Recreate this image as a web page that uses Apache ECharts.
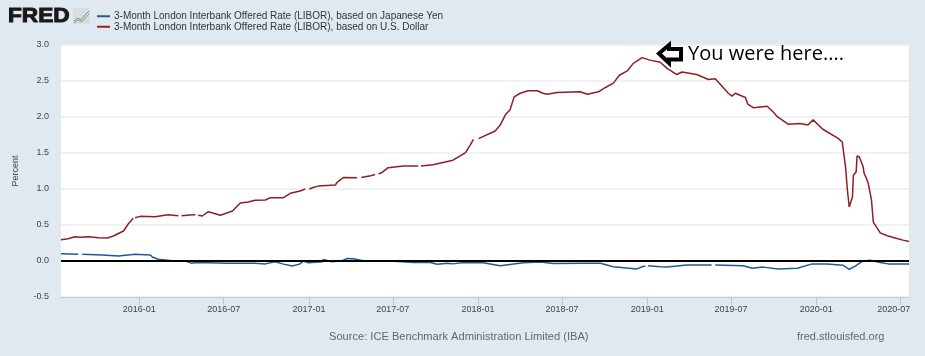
<!DOCTYPE html>
<html>
<head>
<meta charset="utf-8">
<style>
  html, body { margin: 0; padding: 0; background: #e1e9f0; }
  #main { width: 925px; height: 356px; }
</style>
<script src="https://cdn.jsdelivr.net/npm/echarts@6/dist/echarts.min.js"></script>
</head>
<body>
<div id="main"></div>
<script>
var jpyName = '3-Month London Interbank Offered Rate (LIBOR), based on Japanese Yen';
var usdName = '3-Month London Interbank Offered Rate (LIBOR), based on U.S. Dollar';

var tickDates = ['2016-01-01', '2016-07-01', '2017-01-01', '2017-07-01', '2018-01-01',
  '2018-07-01', '2019-01-01', '2019-07-01', '2020-01-01', '2020-07-01'];

// null = missing day in the source
var usdDates = ['2015-07-16', '2015-07-31', '2015-08-15', '2015-08-26', '2015-09-13', '2015-10-05',
  '2015-10-24', '2015-11-06', '2015-11-28', '2015-12-08', '2015-12-19', '2015-12-21', '2015-12-23',
  '2016-01-03', '2016-02-04', '2016-03-03', '2016-03-25', '2016-03-28', '2016-04-01', '2016-04-26',
  '2016-05-01', '2016-05-04', '2016-05-07', '2016-05-16', '2016-05-29', '2016-06-24', '2016-07-20',
  '2016-08-06', '2016-08-23', '2016-09-07', '2016-09-29', '2016-10-10', '2016-11-07', '2016-11-22',
  '2016-12-13', '2016-12-24', '2016-12-28', '2017-01-02', '2017-01-10', '2017-01-21', '2017-02-27',
  '2017-03-04', '2017-03-17', '2017-04-15', '2017-04-20', '2017-04-24', '2017-05-14', '2017-05-24',
  '2017-05-28', '2017-05-31', '2017-06-08', '2017-06-21', '2017-07-24', '2017-08-25', '2017-08-28',
  '2017-08-31', '2017-09-26', '2017-11-08', '2017-12-05', '2017-12-15', '2017-12-22', '2017-12-27',
  '2018-01-02', '2018-01-06', '2018-02-07', '2018-02-18', '2018-03-01', '2018-03-11', '2018-03-20',
  '2018-04-02', '2018-04-19', '2018-05-09', '2018-05-21', '2018-05-30', '2018-06-21', '2018-08-09',
  '2018-08-25', '2018-09-18', '2018-10-03', '2018-10-20', '2018-11-02', '2018-11-19', '2018-12-02',
  '2018-12-21', '2019-01-07', '2019-01-29', '2019-02-13', '2019-03-06', '2019-03-17', '2019-04-18',
  '2019-05-13', '2019-05-28', '2019-06-25', '2019-07-03', '2019-07-10', '2019-08-01', '2019-08-06',
  '2019-08-18', '2019-09-17', '2019-09-30', '2019-10-08', '2019-11-01', '2019-11-27', '2019-12-14',
  '2019-12-25', '2020-01-15', '2020-02-18', '2020-02-26', '2020-03-04', '2020-03-08', '2020-03-12',
  '2020-03-19', '2020-03-21', '2020-03-27', '2020-03-29', '2020-04-03', '2020-04-11', '2020-04-13',
  '2020-04-18', '2020-04-22', '2020-04-29', '2020-05-03', '2020-05-11', '2020-05-18', '2020-06-02',
  '2020-06-19', '2020-07-06', '2020-07-19'];
var usdValues = [0.296, 0.31, 0.338, 0.33, 0.338, 0.324,
  0.32, 0.347, 0.417, 0.514, 0.595, null, 0.6,
  0.62, 0.615, 0.643, 0.63, null, 0.63, 0.643,
  0.643, null, 0.635, 0.625, 0.685, 0.635, 0.695,
  0.805, 0.82, 0.843, 0.847, 0.88, 0.88, 0.94,
  0.972, 1.0, null, 1.0, 1.02, 1.04, 1.055,
  1.10, 1.16, 1.157, null, 1.16, 1.185, 1.20,
  null, 1.21, 1.23, 1.296, 1.32, 1.32, null,
  1.32, 1.337, 1.40, 1.505, 1.61, 1.69, null,
  1.70, 1.71, 1.805, 1.89, 2.03, 2.10, 2.28,
  2.33, 2.365, 2.365, 2.33, 2.315, 2.34, 2.35,
  2.315, 2.35, 2.41, 2.47, 2.58, 2.64, 2.745,
  2.825, 2.79, 2.76, 2.675, 2.59, 2.625, 2.59,
  2.52, 2.53, 2.33, 2.29, 2.33, 2.27, 2.18,
  2.13, 2.15, 2.07, 2.01, 1.90, 1.91, 1.89,
  1.96, 1.83, 1.70, 1.65, 1.31, 0.99, 0.75,
  0.89, 1.19, 1.24, 1.46, 1.445, 1.31, 1.22,
  1.15, 1.08, 0.85, 0.54, 0.46, 0.39, 0.35,
  0.32, 0.29, 0.27];

var jpyDates = ['2015-07-16', '2015-08-22', '2015-08-25', '2015-08-31', '2015-10-13', '2015-11-17',
  '2015-12-23', '2016-01-25', '2016-01-29', '2016-02-11', '2016-03-12', '2016-04-09', '2016-04-22',
  '2016-05-05', '2016-07-11', '2016-09-07', '2016-09-29', '2016-10-20', '2016-11-05', '2016-11-26',
  '2016-12-13', '2016-12-20', '2016-12-31', '2017-01-30', '2017-02-01', '2017-02-20', '2017-03-14',
  '2017-03-25', '2017-04-07', '2017-04-28', '2017-06-26', '2017-08-14', '2017-09-20', '2017-10-05',
  '2017-10-27', '2017-11-08', '2017-11-30', '2018-01-12', '2018-02-18', '2018-03-27', '2018-04-09',
  '2018-05-15', '2018-06-12', '2018-08-16', '2018-09-22', '2018-10-20', '2018-12-10', '2018-12-21',
  '2018-12-28', '2018-12-31', '2019-01-03', '2019-01-29', '2019-02-13', '2019-03-28', '2019-05-20',
  '2019-05-23', '2019-05-28', '2019-07-27', '2019-08-16', '2019-09-08', '2019-10-11', '2019-11-21',
  '2019-12-23', '2020-01-24', '2020-02-28', '2020-03-12', '2020-03-25', '2020-04-09', '2020-04-26',
  '2020-05-18', '2020-06-04', '2020-07-19'];
var jpyValues = [0.10, 0.094, null, 0.093, 0.083, 0.07,
  0.093, 0.083, 0.055, 0.024, 0.005, 0, -0.03,
  -0.02, -0.03, -0.03, -0.04, -0.01, -0.04, -0.07,
  -0.04, 0.0, -0.025, -0.01, 0.02, -0.01, 0.005,
  0.035, 0.03, 0.005, 0, -0.02, -0.02, -0.045,
  -0.03, -0.04, -0.02, -0.025, -0.065, -0.035, -0.025,
  -0.015, -0.035, -0.03, -0.03, -0.08, -0.11, -0.08,
  -0.07, null, -0.065, -0.08, -0.085, -0.055, -0.055,
  null, -0.055, -0.065, -0.10, -0.085, -0.11, -0.10,
  -0.04, -0.04, -0.06, -0.115, -0.07, -0.005, 0.01,
  -0.02, -0.04, -0.04];

function ts(d) { return Date.UTC(+d.slice(0, 4), +d.slice(5, 7) - 1, +d.slice(8, 10)); }
function toPairs(dates, values) {
  return dates.map(function (d, i) { return [ts(d), values[i]]; });
}

var labelFont = 'Liberation Sans, Arial, sans-serif';
var myChart = echarts.init(document.getElementById('main'), null, { renderer: 'canvas' });
var option = {
  animation: false,
  backgroundColor: '#e1e9f0',
  grid: {
    left: 61, right: 16, top: 45, bottom: 59,
    show: true, backgroundColor: '#fff', borderWidth: 0
  },
  legend: {
    orient: 'vertical', left: 92, top: 6,
    itemWidth: 13, itemHeight: 2, itemGap: 0,
    icon: 'rect',
    textStyle: { fontFamily: labelFont, fontSize: 10, color: '#333', padding: [0, 0, 0, -1], lineHeight: 10.5 },
    data: [jpyName, usdName],
    selectedMode: false
  },
  xAxis: {
    type: 'value',
    min: ts('2015-07-16'), max: ts('2020-07-19'),
    splitLine: { show: false },
    axisLine: { onZero: false, lineStyle: { color: '#c0d0e0', width: 1 } },
    axisTick: { customValues: tickDates.map(ts), length: 8, lineStyle: { color: '#b8c9da' } },
    axisLabel: {
      customValues: tickDates.map(ts),
      hideOverlap: false,
      margin: 8,
      fontFamily: labelFont, fontSize: 9, color: '#444',
      formatter: function (v) {
        var s = new Date(v).toISOString().slice(0, 7);
        // last label is pulled left to stay inside the plot
        return s === '2020-07' ? '{last|' + s + '}' : s;
      },
      rich: { last: { fontFamily: labelFont, fontSize: 9, color: '#444', padding: [0, 14, 0, 0] } }
    }
  },
  yAxis: {
    type: 'value',
    min: -0.5, max: 3, interval: 0.5,
    name: 'Percent',
    nameLocation: 'middle',
    nameGap: 41,
    nameTextStyle: { fontFamily: labelFont, fontSize: 9, color: '#444' },
    axisLine: { show: false },
    axisTick: { show: false },
    splitLine: { lineStyle: { color: '#ececec', width: 1.5 } },
    axisLabel: {
      margin: 12,
      padding: [3, 0, 0, 0],
      fontFamily: labelFont, fontSize: 9, color: '#444',
      formatter: function (v) { return v.toFixed(1); }
    }
  },
  series: [{
    name: jpyName,
    type: 'line',
    showSymbol: false,
    connectNulls: false,
    itemStyle: { color: '#1f5a96' },
    lineStyle: { color: '#1f5a96', width: 1.5 },
    data: toPairs(jpyDates, jpyValues),
    z: 3
  }, {
    name: usdName,
    type: 'line',
    showSymbol: false,
    connectNulls: false,
    itemStyle: { color: '#8c2025' },
    lineStyle: { color: '#8c2025', width: 1.5 },
    data: toPairs(usdDates, usdValues),
    // the thick black zero line drawn on top of the picture
    markLine: {
      silent: true, symbol: 'none', animation: false,
      label: { show: false },
      lineStyle: { color: '#000', width: 2, type: 'solid' },
      data: [{ yAxis: 0 }]
    },
    z: 3
  }],
  graphic: [
    // FRED logo
    { type: 'text', x: 8, y: 6, scaleX: 1.08, style: { text: 'FRED', fontFamily: labelFont, fontWeight: 'bold', fontSize: 21, fill: '#1a1a1a', stroke: '#1a1a1a', lineWidth: 1 } },
    { type: 'rect', shape: { x: 73, y: 8, width: 17, height: 16 }, style: { fill: '#d9dddf' } },
    { type: 'polyline', shape: { points: [[74, 21], [78, 18], [81, 20], [85, 15], [89, 11]] }, style: { stroke: '#6f94a8', fill: null, lineWidth: 1 } },
    { type: 'polyline', shape: { points: [[74, 23], [78, 20], [82, 22], [86, 17], [89, 14]] }, style: { stroke: '#8aa066', fill: null, lineWidth: 1 } },
    // hand drawn note
    { type: 'polygon', z: 10, shape: { points: [[659, 53.5], [669, 45], [669, 49], [681, 49], [681, 59.5], [669, 59.5], [669, 63]] }, style: { fill: '#fff', stroke: '#000', lineWidth: 4 } },
    { type: 'text', z: 10, left: 688, top: 44, style: { text: 'You were here....', fontFamily: 'Open Sans', fontSize: 20, fill: '#000' } },
    // footer
    { type: 'text', left: 329, top: 331, style: { text: 'Source: ICE Benchmark Administration Limited (IBA)', fontFamily: labelFont, fontSize: 11.1, fill: '#666' } },
    { type: 'text', left: 797, top: 331, style: { text: 'fred.stlouisfed.org', fontFamily: labelFont, fontSize: 11, fill: '#666' } }
  ]
};
myChart.setOption(option);
</script>
</body>
</html>
